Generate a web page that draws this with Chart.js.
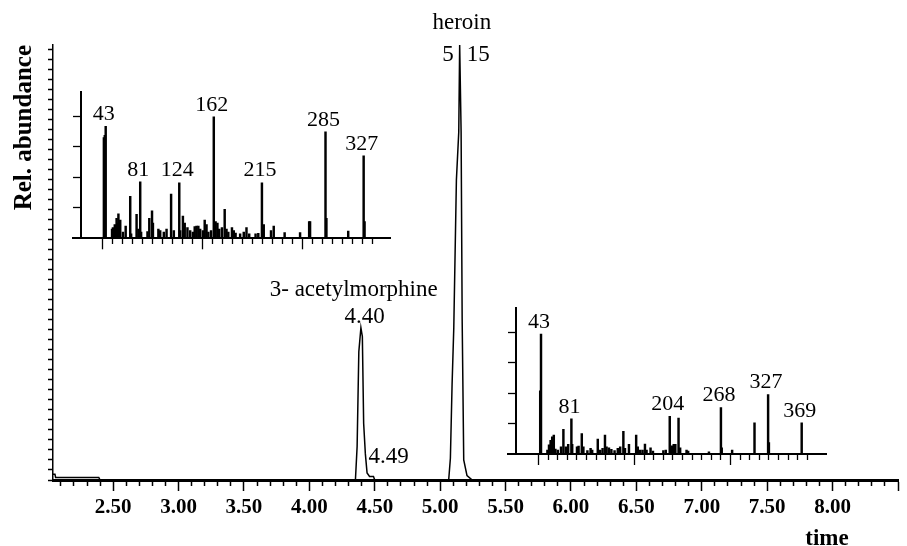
<!DOCTYPE html>
<html>
<head>
<meta charset="utf-8">
<script src="https://cdn.jsdelivr.net/npm/chart.js@4.4.0/dist/chart.umd.min.js"></script>
<style>
  body { margin: 0; background: #fff; }
  #wrap { position: relative; width: 907px; height: 546px; }
  canvas { position: absolute; }
</style>
</head>
<body>
<div id="wrap">
  <canvas id="main" width="907" height="546" style="left:0;top:0"></canvas>
  <canvas id="ms1" width="345" height="175" style="left:60px;top:80px"></canvas>
  <canvas id="ms2" width="345" height="175" style="left:495px;top:295px"></canvas>
</div>
<script>
// chromatogram (retention time in min, relative abundance)
const rtTimes     = [2.04, 2.055, 2.06, 2.39, 2.40, 4.352, 4.365, 4.378, 4.394, 4.405, 4.415, 4.428, 4.441, 4.46, 4.49, 4.50, 5.065, 5.078, 5.091, 5.104, 5.124, 5.142, 5.149, 5.16, 5.168, 5.18, 5.205, 5.245, 8.5];
const rtAbundance = [1.3, 1.3, 0.6, 0.6, 0, 0, 7.7, 29.5, 35, 33, 13, 6, 1.6, 0.8, 0.8, 0, 0, 5, 22, 35, 69, 80, 100, 80, 37, 4.6, 1, 0, 0];
const timeLabels  = ['2.50', '3.00', '3.50', '4.00', '4.50', '5.00', '5.50', '6.00', '6.50', '7.00', '7.50', '8.00'];

// mass spectrum of the 4.40 peak (upper left inset)
const ms1Mz  = [41, 42, 43, 50, 51, 53, 55, 56, 57, 58, 59, 62, 65, 70, 71, 77, 79, 81, 82, 89, 91, 94, 95, 101, 103, 107, 110, 115, 118, 124, 125, 128, 130, 133, 136, 139, 141, 143, 145, 147, 150, 152, 154, 156, 159, 162, 164, 166, 168, 171, 174, 176, 178, 182, 184, 186, 191, 195, 198, 201, 208, 211, 215, 217, 225, 228, 240, 257, 267, 268, 285, 286, 310, 327, 328];
const ms1Int = [66, 67.5, 73.4, 6, 7, 9, 13, 10, 16, 9, 12, 4, 8, 27.5, 3, 15.7, 6, 37, 4, 4.4, 13, 18, 10, 6, 5, 4, 6, 29, 5, 36.4, 5, 14.6, 10, 7, 5, 4, 7.6, 8, 8, 6, 5, 12, 9, 4, 5, 79.5, 11, 10, 6, 7, 19, 6, 4, 7, 5, 3.5, 3, 4, 7, 3, 3, 3.3, 36.4, 9, 5, 8, 3.7, 3.7, 11, 11, 69.7, 13, 4.8, 54, 11];
const ms1Labels = [43, 81, 124, 162, 215, 285, 327];

// mass spectrum of the 5.15 peak (lower right inset)
const ms2Mz  = [42, 43, 51, 53, 55, 57, 59, 61, 64, 68, 71, 74, 77, 81, 82, 88, 90, 94, 96, 101, 105, 107, 114, 117, 120, 123, 125, 128, 131, 135, 139, 142, 146, 148, 153, 162, 164, 167, 170, 173, 175, 180, 183, 196, 199, 204, 205, 207, 209, 211, 215, 217, 225, 227, 253, 268, 269, 282, 310, 327, 328, 369];
const ms2Int = [41.7, 79, 2.6, 6, 9, 11.3, 12.4, 3.3, 2.6, 4.8, 16.3, 4.8, 6.3, 23.2, 6.3, 4.8, 5.2, 13.5, 4.8, 2.2, 3.7, 2.6, 9.8, 2.6, 3.7, 12.4, 4.8, 4.1, 3, 2.2, 3.7, 4.8, 15, 3.7, 6.3, 12.4, 4.8, 2.6, 2.6, 6.5, 2.6, 4.1, 2, 2.2, 2.6, 24.8, 4.8, 5.4, 6.3, 6.3, 23.7, 4.1, 2.6, 2, 1.5, 30.6, 4.1, 2.6, 20.6, 39.1, 7.6, 20.6];
const ms2Labels = [43, 81, 204, 268, 327, 369];

Chart.defaults.font.family = '"Liberation Serif", "Times New Roman", serif';
Chart.defaults.color = '#000';
Chart.defaults.animation = false;
Chart.defaults.plugins.legend.display = false;
Chart.defaults.plugins.tooltip.enabled = false;

// tick marks: every 0.1 min on time axis, every ~10 px on abundance axis
const timeTicks = [];
for (let k = 21; k <= 85; k++) timeTicks.push(k / 10);
const abundTicks = [];
for (let k = 0; k <= 43; k++) abundTicks.push(k * 2.3);
const isHalf = v => Math.round(v * 10) % 5 === 0;

const mainLabels = {
  id: 'mainLabels',
  afterDatasetsDraw(chart) {
    const { ctx, scales: { x, y }, chartArea } = chart;
    ctx.save();
    ctx.fillStyle = '#000';
    ctx.textBaseline = 'middle';
    ctx.font = '23px "Liberation Serif"';
    const xh = x.getPixelForValue(5.15), yh = y.getPixelForValue(100);
    ctx.textAlign = 'center';
    ctx.fillText('heroin', xh + 2, yh - 22);
    ctx.textAlign = 'right';
    ctx.fillText('5', xh - 6, yh + 10);
    ctx.textAlign = 'left';
    ctx.fillText('15', xh + 7, yh + 10);
    const xa = x.getPixelForValue(4.40), ya = y.getPixelForValue(35);
    ctx.textAlign = 'center';
    ctx.fillText('3- acetylmorphine', xa - 8, ya - 38);
    ctx.fillText('4.40', xa + 3, ya - 11);
    ctx.textAlign = 'left';
    ctx.fillText('4.49', x.getPixelForValue(4.49) - 5, y.getPixelForValue(0) - 23);
    ctx.font = 'bold 23px "Liberation Serif"';
    ctx.textAlign = 'center';
    ctx.fillText('time', chartArea.right - 71, 539);
    ctx.restore();
  }
};

new Chart(document.getElementById('main'), {
  type: 'scatter',
  data: {
    datasets: [{
      data: rtTimes.map((t, i) => ({ x: t, y: rtAbundance[i] })),
      showLine: true,
      borderColor: '#000',
      borderWidth: 1.5,
      pointRadius: 0,
      clip: false
    }]
  },
  options: {
    responsive: false,
    devicePixelRatio: 1,
    layout: { padding: { top: 45, right: 9, left: 0, bottom: 0 } },
    scales: {
      x: {
        type: 'linear', min: 2.04, max: 8.5,
        afterBuildTicks: s => { s.ticks = timeTicks.map(v => ({ value: v })); },
        afterFit: s => { s.height = 66; },
        border: { color: '#000', width: 3 },
        grid: {
          drawOnChartArea: false, tickLength: 11, tickColor: '#000', tickWidth: 1.5,
          tickBorderDash: c => (c.tick && isHalf(c.tick.value)) ? [] : [4, 40]
        },
        ticks: {
          autoSkip: false, maxRotation: 0, padding: 4,
          font: { size: 21, weight: 'bold' },
          callback: v => {
            if (!isHalf(v) || v > 8.2) return '';
            return timeLabels[Math.round((v - 2.5) * 2)];
          }
        }
      },
      y: {
        min: 0, max: 100,
        afterBuildTicks: s => { s.ticks = abundTicks.map(v => ({ value: v })); },
        afterFit: s => { s.width = 53; },
        border: { color: '#000', width: 1.5 },
        grid: { drawOnChartArea: false, tickLength: 5, tickColor: '#000', tickWidth: 1.5 },
        ticks: { display: false },
        title: {
          display: true, text: 'Rel. abundance', align: 'end',
          font: { size: 25, weight: 'bold' }, padding: { top: 10 }
        }
      }
    }
  },
  plugins: [mainLabels]
});

function spectrum(id, mz, inten, labels, opt) {
  const mzTicks = [];
  for (let k = 0; k <= opt.tickCount; k++) mzTicks.push(40 + k * opt.tickStep);
  const peakLabels = {
    id: 'peakLabels',
    afterDatasetsDraw(chart) {
      const { ctx, scales: { x, y } } = chart;
      ctx.save();
      ctx.fillStyle = '#000';
      ctx.font = '22px "Liberation Serif"';
      ctx.textAlign = 'center';
      ctx.textBaseline = 'middle';
      labels.forEach(m => {
        const i = mz.indexOf(m);
        ctx.fillText(String(m), x.getPixelForValue(m) - 2, y.getPixelForValue(inten[i]) - 12);
      });
      ctx.restore();
    }
  };
  return new Chart(document.getElementById(id), {
    type: 'bar',
    data: {
      datasets: [{
        data: mz.map((m, i) => ({ x: m, y: inten[i] })),
        backgroundColor: '#000',
        barThickness: 1.8,
        borderWidth: 0
      }]
    },
    options: {
      responsive: false,
      devicePixelRatio: 1,
      layout: { padding: opt.padding },
      scales: {
        x: {
          type: 'linear', min: opt.xMin, max: opt.xMax, offset: false,
          afterBuildTicks: s => { s.ticks = mzTicks.map(v => ({ value: v })); },
          afterFit: s => { s.height = opt.axisHeight; },
          border: { color: '#000', width: 2 },
          grid: {
            offset: false, drawOnChartArea: false, tickLength: 11, tickColor: '#000', tickWidth: 1.3,
            tickBorderDash: c => (c.index % 10 === 0) ? [] : [5, 40]
          },
          ticks: { display: false }
        },
        y: {
          min: 0, max: 96,
          position: { x: opt.yAxisAt },
          afterBuildTicks: s => { s.ticks = [20, 40, 60, 80].map(v => ({ value: v })); },
          border: { color: '#000', width: 2 },
          grid: { drawOnChartArea: false, tickLength: 7, tickColor: '#000', tickWidth: 1.3 },
          ticks: { display: false }
        }
      }
    },
    plugins: [peakLabels]
  });
}

spectrum('ms1', ms1Mz, ms1Int, ms1Labels, {
  xMin: 7, xMax: 356, yAxisAt: 15.5, tickStep: 11, tickCount: 27,
  padding: { left: 13, right: 15, top: 11.7, bottom: 0 }, axisHeight: 16.7
});
spectrum('ms2', ms2Mz, ms2Int, ms2Labels, {
  xMin: 2.1, xMax: 399.4, yAxisAt: 11.4, tickStep: 12, tickCount: 28,
  padding: { left: 13.3, right: 14, top: 13.3, bottom: 0 }, axisHeight: 16
});
</script>
</body>
</html>
